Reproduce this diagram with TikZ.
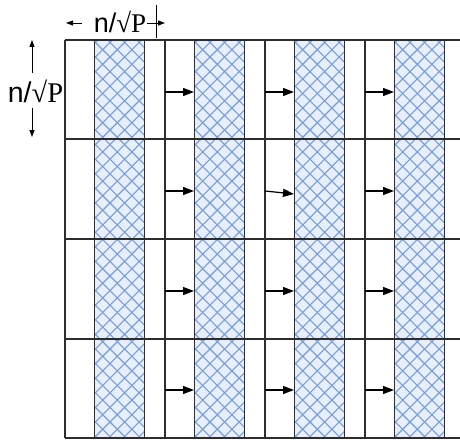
\documentclass[tikz,border=0pt]{standalone}
\usepackage{fontspec}
\setmainfont{Liberation Serif}
\newfontfamily\lsans{Liberation Sans}
\usetikzlibrary{arrows.meta,calc}
\definecolor{hatchblue}{RGB}{118,158,220}
\definecolor{hatchfill}{RGB}{232,238,250}
\definecolor{gridgray}{RGB}{45,45,45}
\begin{document}
\begin{tikzpicture}[x=1pt,y=-1pt,
  colbox/.style={draw=gridgray, line width=1pt, fill=hatchfill,
    minimum width=50pt, minimum height=397pt, inner sep=0pt, outer sep=0pt,
    path picture={\foreach \k in {-30,...,4}{
      \draw[hatchblue, line width=1.1pt] ($(path picture bounding box.south west)+(\k*14.6pt,0pt)$) -- ++(430pt,430pt);
      \draw[hatchblue, line width=1.1pt] ($(path picture bounding box.north west)+(\k*14.6pt,0pt)$) -- ++(430pt,-430pt);}}},
  gridline/.style={draw=gridgray, line width=1.2pt},
  arr/.style={draw=black, line width=1.2pt, -{Triangle[length=11pt,width=8pt]}},
  dimarr/.style={draw=black, line width=0.9pt, -{Triangle[length=7pt,width=5pt]}},
  lbl/.style={inner sep=0pt, anchor=base}]
\useasboundingbox (0,0) rectangle (460,444);
% hatched columns
\foreach \i/\x in {1/119,2/219,3/319,4/419}{
  \node[colbox] (r\i) at (\x,239.5) {};
}
% grid lines
\foreach \y in {40,139,239,339,438}{
  \draw[gridline] (65,\y) -- (460,\y);
}
\foreach \x in {65,165,265,365}{
  \draw[gridline] (\x,40) -- (\x,438);
}
% arrows
\foreach \y [count=\r] in {92,191,291,390}{
  \coordinate (a\r2) at (165,\y);
  \coordinate (a\r3) at (265,\y);
  \coordinate (a\r4) at (365,\y);
  \draw[arr] (a\r2) -- (a\r2 -| r2.west);
  \draw[arr] (a\r4) -- (a\r4 -| r4.west);
}
\coordinate (e13) at (294,92);
\coordinate (e23) at (294,194);
\coordinate (e33) at (294,291);
\coordinate (e43) at (294,390);
\draw[arr] (a13) -- (e13);
\draw[arr] (a23) -- (e23);
\draw[arr] (a33) -- (e33);
\draw[arr] (a43) -- (e43);
% top dimension
\node[lbl, font=\fontsize{27}{27}\selectfont] (tl) at (120,33) {{\lsans n/}√P};
\coordinate (t1) at (82,23);
\coordinate (t1e) at (66,23);
\coordinate (t2) at (147,23);
\coordinate (t2e) at (165,23);
\coordinate (tk1) at (156,5);
\coordinate (tk2) at (156,38);
\draw[dimarr] (t1) -- (t1e);
\draw[dimarr] (t2) -- (t2e);
\draw[draw=black, line width=0.9pt] (tk1) -- (tk2);
% left dimension
\node[lbl, font=\fontsize{28.5}{28.5}\selectfont] (ll) at (35.5,102) {{\lsans n/}√P};
\coordinate (l1) at (32,73);
\coordinate (l1e) at (32,40);
\coordinate (l2) at (32,108);
\coordinate (l2e) at (32,137);
\draw[dimarr] (l1) -- (l1e);
\draw[dimarr] (l2) -- (l2e);
\end{tikzpicture}
\end{document}
